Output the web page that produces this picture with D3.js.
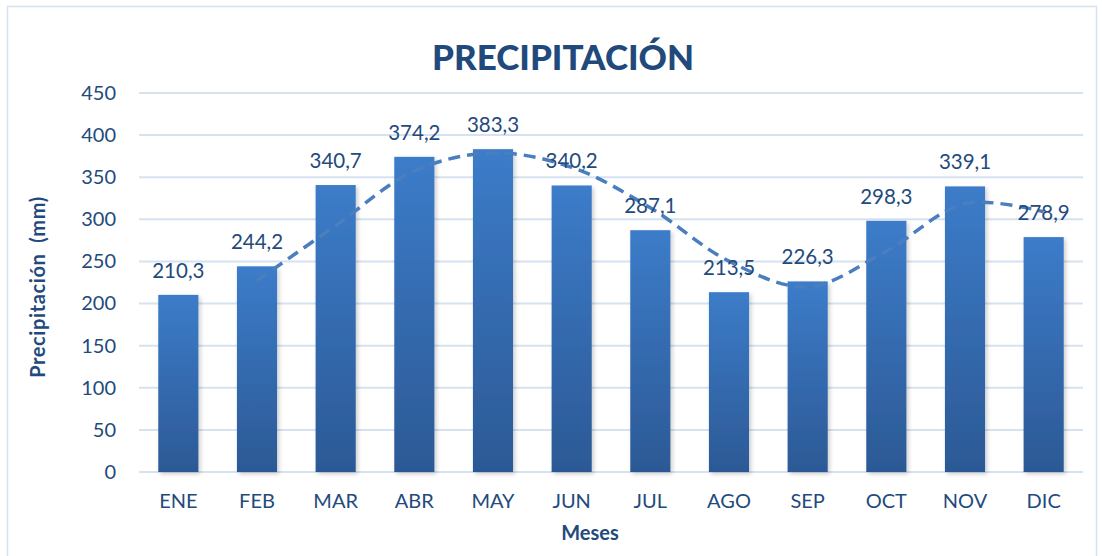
<!DOCTYPE html>
<html><head><meta charset="utf-8">
<script src="https://cdn.jsdelivr.net/npm/d3@7"></script>
<style>body{margin:0;background:#fff}svg{display:block}text{font-family:Lato,"Open Sans",sans-serif}</style>
</head><body><svg id="c" width="1102" height="556"></svg>
<script>
const months = ["ENE","FEB","MAR","ABR","MAY","JUN","JUL","AGO","SEP","OCT","NOV","DIC"];
const precip = [210.3,244.2,340.7,374.2,383.3,340.2,287.1,213.5,226.3,298.3,339.1,278.9];
const trendMonths = ["FEB","MAR","ABR","MAY","JUN","JUL","AGO","SEP","OCT","NOV","DIC"];
const trend = [227.3,292.5,357.5,378.8,361.8,313.7,250.3,219.9,262.3,318.7,309.0];
const yTicks = [0,50,100,150,200,250,300,350,400,450];
const labels = ["210,3","244,2","340,7","374,2","383,3","340,2","287,1","213,5","226,3","298,3","339,1","278,9"];

const svg = d3.select("#c");
const L=139,R=1083,T=93,B=472;
const textCol="#234a7c";
const x=d3.scaleBand().domain(months).range([L,R]).paddingInner(0.49).paddingOuter(0.245);
const y=d3.scaleLinear().domain([0,450]).range([B,T]);

svg.append("rect").attr("x",7.5).attr("y",6.5).attr("width",1089).attr("height",560).attr("fill","none").attr("stroke","#d6e2f0").attr("stroke-width",1.5);

const defs=svg.append("defs");
const g=defs.append("linearGradient").attr("id","bg").attr("x1",0).attr("y1",0).attr("x2",0).attr("y2",1);
g.append("stop").attr("offset","0%").attr("stop-color","#3c7cc9");
g.append("stop").attr("offset","100%").attr("stop-color","#2c5995");
const f=defs.append("filter").attr("id","sh").attr("x","-20%").attr("y","-5%").attr("width","150%").attr("height","115%");
f.append("feDropShadow").attr("dx",2).attr("dy",2).attr("stdDeviation",2).attr("flood-color","#000").attr("flood-opacity",0.2);

svg.append("g").selectAll("line").data(yTicks).join("line")
 .attr("x1",L).attr("x2",R).attr("y1",d=>y(d)).attr("y2",d=>y(d))
 .attr("stroke","#d6e2f0").attr("stroke-width",2);

const ya=svg.append("g").attr("transform",`translate(${L},0)`).call(d3.axisLeft(y).tickValues(yTicks).tickSize(0).tickPadding(23));
ya.select(".domain").remove();
ya.selectAll("text").attr("font-size",20).attr("fill",textCol).attr("font-family","Lato,sans-serif");

svg.append("g").selectAll("rect").data(precip).join("rect")
 .attr("x",(d,i)=>x(months[i])).attr("width",x.bandwidth())
 .attr("y",d=>y(d)).attr("height",d=>B-y(d))
 .attr("fill","url(#bg)").attr("filter","url(#sh)");

const xa=svg.append("g").attr("transform",`translate(0,${B})`).call(d3.axisBottom(x).tickSize(0).tickPadding(22));
xa.select(".domain").remove();
xa.selectAll("text").attr("font-size",20).attr("fill",textCol).attr("font-family","Lato,sans-serif");

const line=d3.line().x((d,i)=>x(trendMonths[i])+x.bandwidth()/2).y(d=>y(d)).curve(d3.curveCatmullRom.alpha(0.5));
svg.append("path").datum(trend).attr("d",line).attr("fill","none").attr("stroke","#4a7ebf")
 .attr("stroke-width",3.5).attr("stroke-dasharray","12,7");

svg.append("g").selectAll("text").data(precip).join("text")
 .attr("x",(d,i)=>x(months[i])+x.bandwidth()/2).attr("y",d=>y(d)-17)
 .attr("text-anchor","middle").attr("font-size",20.5).attr("fill",textCol).text((d,i)=>labels[i]);

svg.append("text").attr("x",563).attr("y",70).attr("text-anchor","middle").attr("font-size",35).attr("font-weight","900").attr("fill","#22497b").text("PRECIPITACIÓN");
svg.append("text").attr("x",590).attr("y",540).attr("text-anchor","middle").attr("font-size",20).attr("font-weight","bold").attr("fill",textCol).text("Meses");
svg.append("text").attr("transform","translate(45,287) rotate(-90)").attr("text-anchor","middle").attr("font-size",20).attr("letter-spacing",0.6).attr("font-weight","bold").attr("fill",textCol).attr("xml:space","preserve").text("Precipitación  (mm)");
</script></body></html>
